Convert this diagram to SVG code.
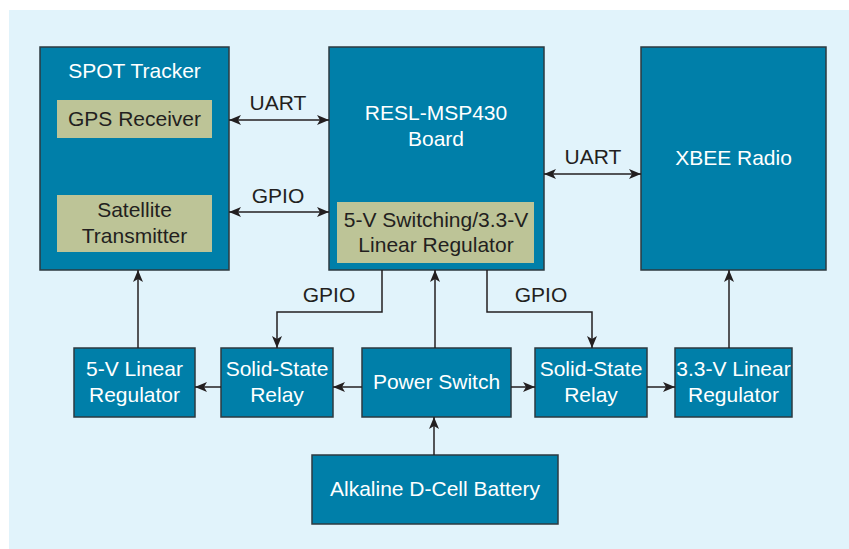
<svg xmlns="http://www.w3.org/2000/svg" width="849" height="549" viewBox="0 0 849 549">
<defs>
<marker id="ah" viewBox="0 0 12 10" refX="12" refY="5" markerWidth="12" markerHeight="10" markerUnits="userSpaceOnUse" orient="auto-start-reverse">
<path d="M0,0 L12,5 L0,10 L3,5 z" fill="#231F20"/>
</marker>
<style>
.box{fill:#007FA9;stroke:#2D3A40;stroke-width:1.5}
.sub{fill:#BDC497}
.wt{font-family:"Liberation Sans",Arial,sans-serif;font-size:21px;fill:#FFFFFF;text-anchor:middle}
.dt{font-family:"Liberation Sans",Arial,sans-serif;font-size:21px;fill:#231F20;text-anchor:middle}
.ln{fill:none;stroke:#231F20;stroke-width:1.5}
</style>
</defs>
<rect x="9" y="10" width="840" height="539" fill="#E1F3FB"/>

<g id="spot">
<rect class="box" x="40" y="47" width="189" height="223"/>
<text class="wt" x="134.5" y="78">SPOT Tracker</text>
<g id="gps">
<rect class="sub" x="57" y="100" width="155" height="38"/>
<text class="dt" x="134.5" y="126">GPS Receiver</text>
</g>
<g id="sat">
<rect class="sub" x="57" y="195" width="155" height="57"/>
<text class="dt" x="134.5" y="217">Satellite</text>
<text class="dt" x="134.5" y="243">Transmitter</text>
</g>
</g>

<g id="board">
<rect class="box" x="329" y="47" width="215" height="223"/>
<text class="wt" x="436" y="120">RESL-MSP430</text>
<text class="wt" x="436" y="146">Board</text>
<g id="reg">
<rect class="sub" x="337" y="202" width="197" height="61"/>
<text class="dt" x="436" y="227">5-V Switching/3.3-V</text>
<text class="dt" x="436" y="252">Linear Regulator</text>
</g>
</g>

<g id="xbee">
<rect class="box" x="641" y="47" width="185" height="223"/>
<text class="wt" x="733.5" y="165">XBEE Radio</text>
</g>

<g id="reg5">
<rect class="box" x="74" y="348" width="121" height="69"/>
<text class="wt" x="134.5" y="376">5-V Linear</text>
<text class="wt" x="134.5" y="402">Regulator</text>
</g>

<g id="ssr1">
<rect class="box" x="221" y="348" width="112" height="69"/>
<text class="wt" x="277" y="376">Solid-State</text>
<text class="wt" x="277" y="402">Relay</text>
</g>

<g id="psw">
<rect class="box" x="362" y="348" width="149" height="69"/>
<text class="wt" x="436.5" y="389">Power Switch</text>
</g>

<g id="ssr2">
<rect class="box" x="535" y="348" width="112" height="69"/>
<text class="wt" x="591" y="376">Solid-State</text>
<text class="wt" x="591" y="402">Relay</text>
</g>

<g id="reg33">
<rect class="box" x="675" y="348" width="117" height="69"/>
<text class="wt" x="733.5" y="376">3.3-V Linear</text>
<text class="wt" x="733.5" y="402">Regulator</text>
</g>

<g id="battery">
<rect class="box" x="312" y="455" width="246" height="69"/>
<text class="wt" x="435" y="496">Alkaline D-Cell Battery</text>
</g>

<g id="connectors">
<line class="ln" x1="229" y1="120" x2="329" y2="120" marker-start="url(#ah)" marker-end="url(#ah)"/>
<text class="dt" x="278" y="110">UART</text>
<line class="ln" x1="229" y1="212" x2="329" y2="212" marker-start="url(#ah)" marker-end="url(#ah)"/>
<text class="dt" x="278" y="203">GPIO</text>
<line class="ln" x1="544" y1="174" x2="641" y2="174" marker-start="url(#ah)" marker-end="url(#ah)"/>
<text class="dt" x="593" y="164">UART</text>
<line class="ln" x1="138" y1="348" x2="138" y2="270" marker-end="url(#ah)"/>
<polyline class="ln" points="382,270 382,312 277,312 277,348" marker-end="url(#ah)"/>
<text class="dt" x="329" y="302">GPIO</text>
<polyline class="ln" points="487,270 487,312 592,312 592,348" marker-end="url(#ah)"/>
<text class="dt" x="541" y="302">GPIO</text>
<line class="ln" x1="435" y1="348" x2="435" y2="270" marker-end="url(#ah)"/>
<line class="ln" x1="729" y1="348" x2="729" y2="270" marker-end="url(#ah)"/>
<line class="ln" x1="362" y1="387" x2="333" y2="387" marker-end="url(#ah)"/>
<line class="ln" x1="221" y1="387" x2="195" y2="387" marker-end="url(#ah)"/>
<line class="ln" x1="511" y1="387" x2="535" y2="387" marker-end="url(#ah)"/>
<line class="ln" x1="647" y1="387" x2="675" y2="387" marker-end="url(#ah)"/>
<line class="ln" x1="434" y1="455" x2="434" y2="417" marker-end="url(#ah)"/>
</g>
</svg>
